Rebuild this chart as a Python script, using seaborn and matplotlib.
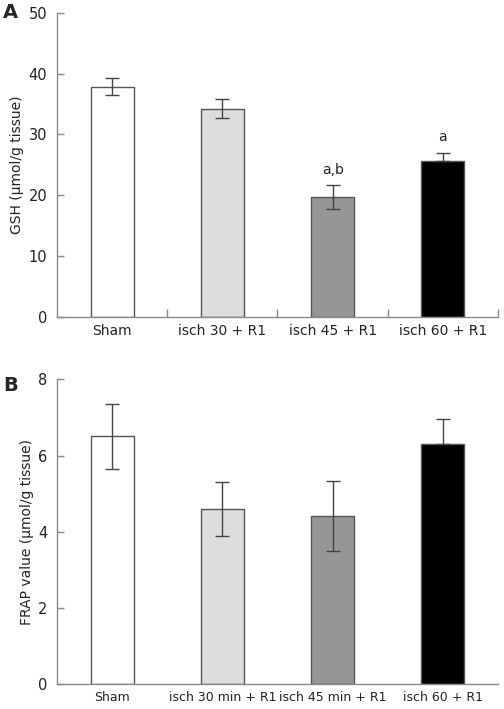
import pandas as pd
import matplotlib
matplotlib.use("Agg")
import matplotlib.pyplot as plt
import seaborn as sns

# Panel A - GSH
gsh_groups = ["Sham", "isch 30 + R1", "isch 45 + R1", "isch 60 + R1"]
gsh_mean = [37.8, 34.2, 19.7, 25.7]
gsh_err = [1.4, 1.55, 1.95, 1.3]
gsh_marks = ["", "", "a,b", "a"]

# Panel B - FRAP
frap_groups = ["Sham", "isch 30 min + R1", "isch 45 min + R1", "isch 60 + R1"]
frap_mean = [6.5, 4.6, 4.42, 6.3]
frap_err = [0.85, 0.71, 0.92, 0.67]

bar_colors = ["#ffffff", "#dcdddc", "#969696", "#000000"]
spine_gray = "#8a8a8a"

sns.set_style("white")
plt.rcParams["font.family"] = ["DejaVu Sans"]


def draw_panel(ax, groups, means, errs, ymax, step, ylabel, letter, letter_y=1.0,
               marks=None, xticks_between=False, xlabel_size=10):
    df = pd.DataFrame({"group": groups, "value": means})
    sns.barplot(data=df, x="group", y="value", hue="group", palette=bar_colors,
                width=0.39, edgecolor="#555555", linewidth=1.0, legend=False, ax=ax)
    # lower half of the error bar disappears inside the black bar
    lower = [0 if c == "#000000" else e for c, e in zip(bar_colors, errs)]
    ax.errorbar(range(len(groups)), means, yerr=[lower, errs], fmt="none",
                ecolor="#444444", elinewidth=1.0, capsize=5, capthick=1.0)
    if marks:
        for i, m in enumerate(marks):
            if m:
                ax.annotate(m, (i, means[i] + errs[i]), xytext=(0, 6),
                            textcoords="offset points", ha="center", va="bottom",
                            fontsize=10, color="#222222")
    ax.set_xlim(-0.5, len(groups) - 0.5)
    ax.set_ylim(0, ymax)
    ax.set_yticks([step * k for k in range(int(ymax / step) + 1)])
    ax.set_xlabel("")
    ax.set_ylabel(ylabel, fontsize=10, labelpad=3, color="#222222")
    for s in ["top", "right"]:
        ax.spines[s].set_visible(False)
    for s in ["left", "bottom"]:
        ax.spines[s].set_color(spine_gray)
        ax.spines[s].set_linewidth(1.0)
    ax.tick_params(axis="y", direction="in", length=5, width=1.0, color=spine_gray,
                   pad=7, labelsize=10.5, labelcolor="#222222", left=True)
    ax.tick_params(axis="x", length=0, pad=5, labelsize=xlabel_size, labelcolor="#222222")
    if xticks_between:
        ax.set_xticks([k + 0.5 for k in range(len(groups))], minor=True)
        ax.tick_params(axis="x", which="minor", direction="in", length=6,
                       width=1.0, color=spine_gray, bottom=True)
    ax.text(-0.122, letter_y, letter, transform=ax.transAxes, fontsize=14,
            fontweight="bold", ha="left", va="center")


fig = plt.figure(figsize=(5.04, 7.09), dpi=100)
ax_a = fig.add_axes([0.113, 0.553, 0.875, 0.429])
ax_b = fig.add_axes([0.113, 0.035, 0.875, 0.430])

draw_panel(ax_a, gsh_groups, gsh_mean, gsh_err, 50, 10,
           "GSH (\u03bcmol/g tissue)", "A", marks=gsh_marks, xticks_between=True)
draw_panel(ax_b, frap_groups, frap_mean, frap_err, 8, 2,
           "FRAP value (\u03bcmol/g tissue)", "B", letter_y=0.98, xlabel_size=9.0)

fig.savefig("out.png", dpi=100)
